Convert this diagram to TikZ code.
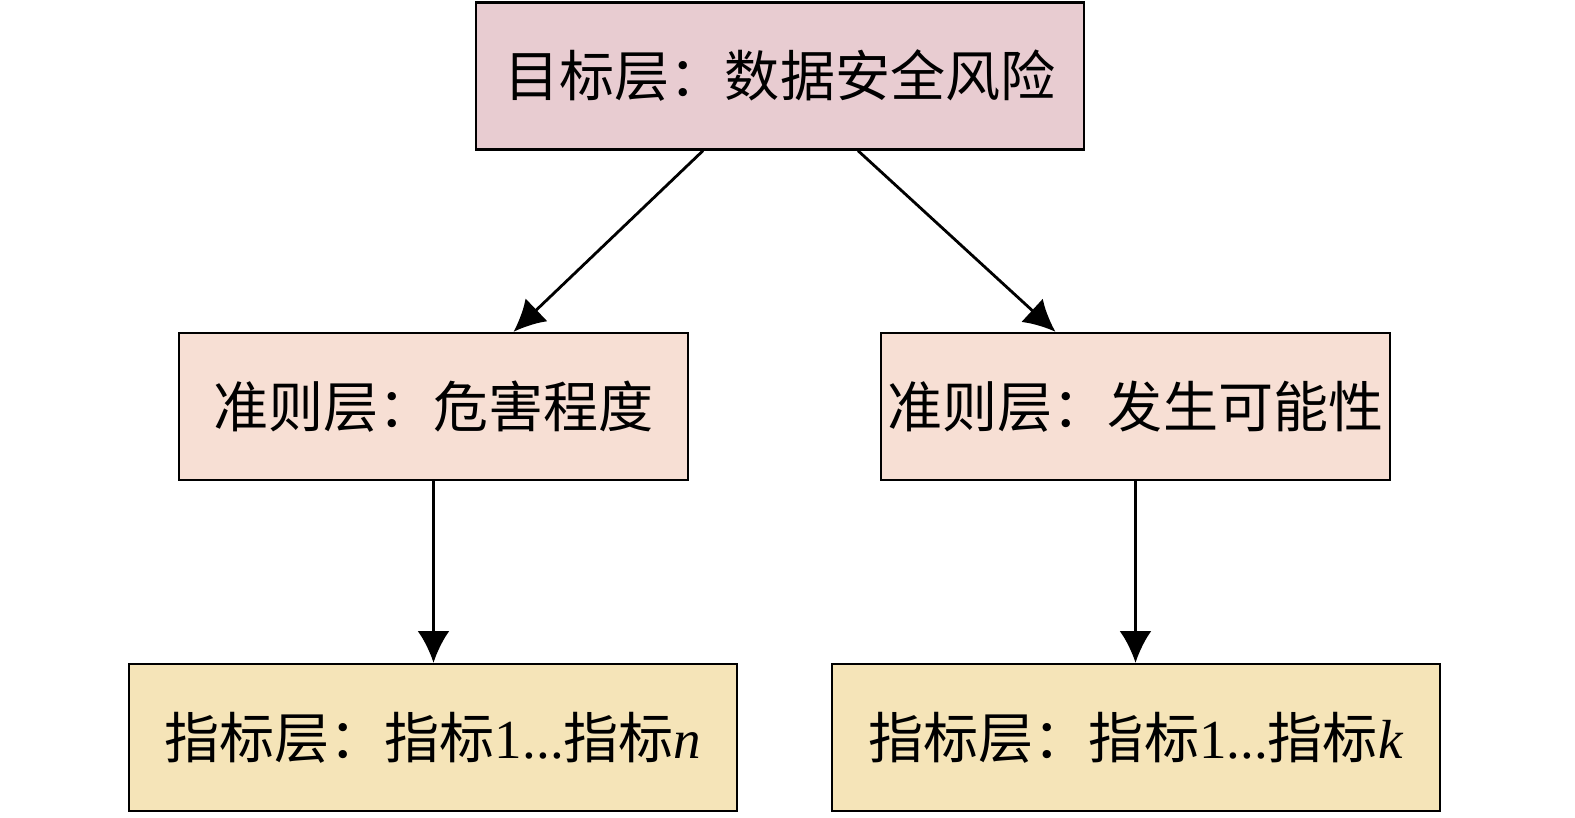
\documentclass[tikz,border=0pt]{standalone}
\usepackage{fontspec}
\setmainfont{Liberation Serif}
\newfontfamily\cjk{Noto Sans CJK SC}
\usetikzlibrary{arrows.meta}
\definecolor{goalpink}{HTML}{E8CCD1}
\definecolor{critpink}{HTML}{F7DFD4}
\definecolor{indyellow}{HTML}{F5E4B8}
\begin{document}
\begin{tikzpicture}[x=0.03cm,y=-0.03cm,
        layer/.style={draw=black,line width=2pt,inner sep=0pt,
            minimum height=4.41cm,font=\fontsize{47}{53}\selectfont},
        link/.style={-{Latex[length=0.95cm,width=0.95cm]},line width=2.4pt}]
    \useasboundingbox (0,0) rectangle (1575,818);

    \node[layer,fill=goalpink,minimum width=18.24cm] (goal) at (780,76)
        {\cjk 目标层：数据安全风险};
    \node[layer,fill=critpink,minimum width=15.27cm] (harm) at (433.5,406.5)
        {\cjk 准则层：危害程度};
    \node[layer,fill=critpink,minimum width=15.27cm] (prob) at (1135.5,406.5)
        {\cjk 准则层：发生可能性};
    \node[layer,fill=indyellow,minimum width=18.24cm] (indn) at (433,737.5)
        {{\cjk 指标层：指标}1...{\cjk 指标}\textit{n}};
    \node[layer,fill=indyellow,minimum width=18.24cm] (indk) at (1136,737.5)
        {{\cjk 指标层：指标}1...{\cjk 指标}\textit{k}};

    \draw[link] ([xshift=-2.31cm]goal.south) -- ([xshift=2.4cm]harm.north);
    \draw[link] ([xshift=2.34cm]goal.south) -- ([xshift=-2.4cm]prob.north);
    \draw[link] (harm.south) -- (harm.south |- indn.north);
    \draw[link] (prob.south) -- (prob.south |- indk.north);
\end{tikzpicture}
\end{document}
